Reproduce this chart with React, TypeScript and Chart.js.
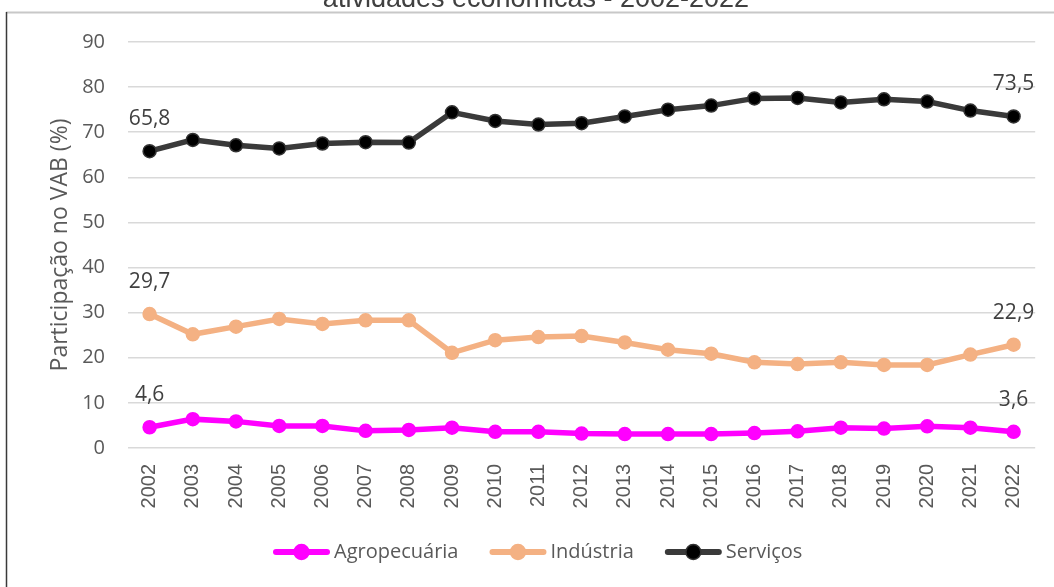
import React, { useEffect, useRef } from "react";
import { Chart, registerables } from "chart.js";

Chart.register(...registerables);

const years = [
  "2002", "2003", "2004", "2005", "2006", "2007", "2008", "2009", "2010", "2011",
  "2012", "2013", "2014", "2015", "2016", "2017", "2018", "2019", "2020", "2021", "2022",
];
const agropecuaria = [4.6, 6.4, 5.9, 4.9, 4.9, 3.8, 4.0, 4.5, 3.6, 3.6, 3.2, 3.1, 3.1, 3.1, 3.3, 3.7, 4.5, 4.3, 4.8, 4.5, 3.6];
const industria = [29.7, 25.2, 26.9, 28.6, 27.5, 28.3, 28.3, 21.1, 23.9, 24.6, 24.8, 23.4, 21.8, 20.9, 19.0, 18.6, 19.0, 18.4, 18.4, 20.7, 22.9];
const servicos = [65.8, 68.3, 67.1, 66.4, 67.5, 67.8, 67.7, 74.4, 72.5, 71.7, 72.0, 73.5, 75.0, 75.9, 77.5, 77.6, 76.6, 77.3, 76.8, 74.8, 73.5];
const seriesNames = ["Agropecuária", "Indústria", "Serviços"];
const titleLine = "atividades econômicas - 2002-2022";
const yAxisTitle = "Participação no VAB (%)";
const yMin = 0;
const yMax = 90;
const yStep = 10;

const fmt = (v: number) => v.toFixed(1).replace(".", ",");

export default function App() {
  const ref = useRef<HTMLCanvasElement>(null);

  useEffect(() => {
    const canvas = ref.current;
    if (!canvas) return;

    const framePlugin = {
      id: "frame",
      beforeDraw(chart: any) {
        const ctx = chart.ctx;
        ctx.save();
        ctx.fillStyle = "#ffffff";
        ctx.fillRect(0, 0, chart.width, chart.height);
        ctx.strokeStyle = "#c8c8c8";
        ctx.lineWidth = 2;
        ctx.beginPath();
        ctx.moveTo(6, 12.5);
        ctx.lineTo(chart.width, 12.5);
        ctx.stroke();
        ctx.strokeStyle = "#3a3a3a";
        ctx.lineWidth = 1.5;
        ctx.beginPath();
        ctx.moveTo(6.5, 12);
        ctx.lineTo(6.5, chart.height);
        ctx.stroke();
        ctx.fillStyle = "#404040";
        ctx.font = "27px 'Liberation Sans', Arial, sans-serif";
        ctx.textAlign = "center";
        ctx.textBaseline = "alphabetic";
        ctx.fillText(titleLine, 536, 7);
        ctx.restore();
      },
    };

    const endLabelsPlugin = {
      id: "endLabels",
      afterDatasetsDraw(chart: any) {
        const ctx = chart.ctx;
        ctx.save();
        ctx.font = "21px 'Open Sans', sans-serif";
        ctx.fillStyle = "#404040";
        ctx.textAlign = "center";
        ctx.textBaseline = "middle";
        chart.data.datasets.forEach((ds: any, i: number) => {
          const meta = chart.getDatasetMeta(i);
          const n = ds.data.length;
          [0, n - 1].forEach((j) => {
            const p = meta.data[j];
            ctx.fillText(fmt(ds.data[j]), p.x, p.y - 32);
          });
        });
        ctx.restore();
      },
    };

    const legendPlugin = {
      id: "customLegend",
      afterDraw(chart: any) {
        const ctx = chart.ctx;
        ctx.save();
        ctx.font = "20px 'Open Sans', sans-serif";
        ctx.textBaseline = "middle";
        ctx.textAlign = "left";
        let x = 273;
        const y = 552;
        chart.data.datasets.forEach((ds: any) => {
          ctx.strokeStyle = ds.borderColor;
          ctx.lineWidth = 6;
          ctx.lineCap = "round";
          ctx.beginPath();
          ctx.moveTo(x + 3, y);
          ctx.lineTo(x + 54, y);
          ctx.stroke();
          ctx.beginPath();
          ctx.arc(x + 28.5, y, 7.5, 0, Math.PI * 2);
          ctx.fillStyle = ds.pointBackgroundColor;
          ctx.fill();
          ctx.lineWidth = 1.5;
          ctx.strokeStyle = ds.pointBorderColor;
          ctx.stroke();
          ctx.fillStyle = "#595959";
          const tx = x + 61;
          ctx.fillText(ds.label, tx, y);
          x = tx + ctx.measureText(ds.label).width + 31;
        });
        ctx.restore();
      },
    };

    const chart = new Chart(canvas, {
      type: "line",
      data: {
        labels: years,
        datasets: [
          {
            label: seriesNames[0],
            data: agropecuaria,
            borderColor: "#FF00FF",
            backgroundColor: "#FF00FF",
            pointBackgroundColor: "#FF00FF",
            pointBorderColor: "#FF00FF",
            borderWidth: 5.5,
            pointRadius: 6.5,
            pointBorderWidth: 1.5,
            tension: 0,
          },
          {
            label: seriesNames[1],
            data: industria,
            borderColor: "#F4B183",
            backgroundColor: "#F4B183",
            pointBackgroundColor: "#F4B183",
            pointBorderColor: "#F4B183",
            borderWidth: 5.5,
            pointRadius: 6.5,
            pointBorderWidth: 1.5,
            tension: 0,
          },
          {
            label: seriesNames[2],
            data: servicos,
            borderColor: "#3a3a3a",
            backgroundColor: "#000000",
            pointBackgroundColor: "#000000",
            pointBorderColor: "#333333",
            borderWidth: 5.5,
            pointRadius: 6.5,
            pointBorderWidth: 1.5,
            tension: 0,
          },
        ],
      },
      options: {
        responsive: false,
        animation: false,
        devicePixelRatio: 1,
        layout: { padding: { left: 0, right: 17, top: 42, bottom: 0 } },
        plugins: {
          legend: { display: false },
          title: { display: false },
          tooltip: { enabled: false },
        },
        scales: {
          x: {
            type: "category",
            offset: true,
            grid: { display: false, drawTicks: false },
            border: { display: false },
            ticks: {
              autoSkip: false,
              minRotation: 90,
              maxRotation: 90,
              padding: 16,
              color: "#595959",
              font: { family: "'Liberation Sans', Arial, sans-serif", size: 20 },
            },
            afterFit: (s: any) => {
              s.height = 139;
            },
          },
          y: {
            min: yMin,
            max: yMax,
            ticks: {
              stepSize: yStep,
              padding: 23,
              color: "#595959",
              font: { family: "'Open Sans', sans-serif", size: 20 },
            },
            grid: { color: "#d9d9d9", lineWidth: 1.5, drawTicks: false },
            border: { display: false },
            title: {
              display: true,
              text: yAxisTitle,
              color: "#595959",
              font: { family: "'Open Sans', sans-serif", size: 23 },
              padding: { top: 47, bottom: 0 },
            },
            afterFit: (s: any) => {
              s.width = 128;
            },
          },
        },
      },
      plugins: [framePlugin, endLabelsPlugin, legendPlugin],
    } as any);

    return () => chart.destroy();
  }, []);

  return (
    <div style={{ position: "absolute", left: 0, top: 0, width: 1054, height: 587, background: "#fff" }}>
      <canvas ref={ref} width={1054} height={587} style={{ display: "block" }} />
    </div>
  );
}
